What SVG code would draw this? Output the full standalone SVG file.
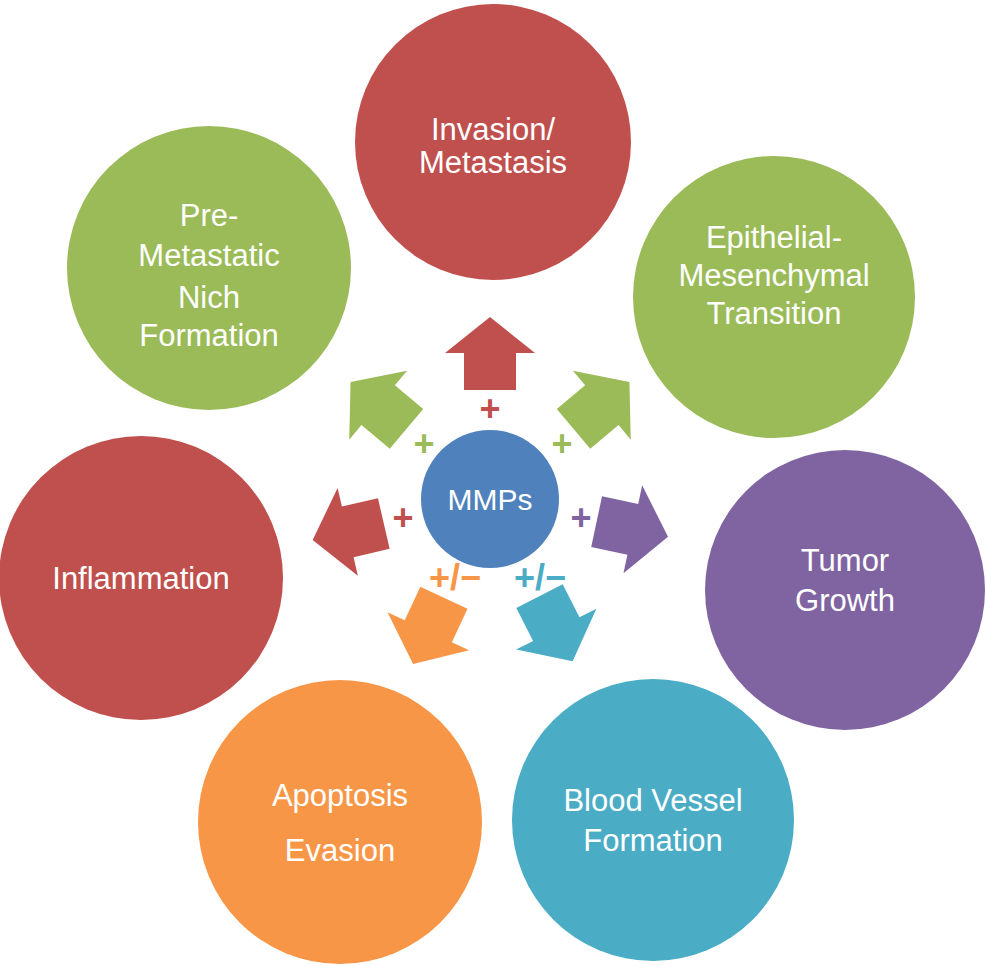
<svg xmlns="http://www.w3.org/2000/svg" width="986" height="965" viewBox="0 0 986 965">
<style>
.t{font-family:"Liberation Sans",Arial,sans-serif;font-size:31px;fill:#fff;text-anchor:middle}
.p{font-family:"Liberation Sans",Arial,sans-serif;font-size:36px;font-weight:bold;text-anchor:middle}
</style>
<defs><path id="ar" d="M-26,-109 L-26,-146 L-45,-146 L0,-182 L45,-146 L26,-146 L26,-109 Z"/></defs>
<rect width="986" height="965" fill="#fff"/>
<g id="n1"><circle cx="493" cy="142" r="138" fill="#c0504d"/><text class="t" x="493" y="140">Invasion/</text><text class="t" x="493" y="173">Metastasis</text></g>
<g id="n2"><circle cx="774" cy="297" r="141" fill="#9bbb59"/><text class="t" x="774" y="248">Epithelial-</text><text class="t" x="774" y="286">Mesenchymal</text><text class="t" x="774" y="324">Transition</text></g>
<g id="n3"><circle cx="845" cy="590" r="140" fill="#8064a2"/><text class="t" x="845" y="571">Tumor</text><text class="t" x="845" y="611">Growth</text></g>
<g id="n4"><circle cx="653" cy="820" r="141" fill="#4bacc6"/><text class="t" x="653" y="811">Blood Vessel</text><text class="t" x="653" y="851">Formation</text></g>
<g id="n5"><circle cx="340" cy="822" r="142" fill="#f79646"/><text class="t" x="340" y="806">Apoptosis</text><text class="t" x="340" y="861">Evasion</text></g>
<g id="n6"><circle cx="141" cy="578" r="142" fill="#c0504d"/><text class="t" x="141" y="589">Inflammation</text></g>
<g id="n7"><circle cx="209" cy="268" r="142" fill="#9bbb59"/><text class="t" x="209" y="226">Pre-</text><text class="t" x="209" y="266">Metastatic</text><text class="t" x="209" y="308">Nich</text><text class="t" x="209" y="346">Formation</text></g>
<g id="connectors">
<use href="#ar" transform="translate(490,499)" fill="#c0504d"/>
<use href="#ar" transform="translate(490,499) rotate(50)" fill="#9bbb59"/>
<use href="#ar" transform="translate(490,499) rotate(102)" fill="#8064a2"/>
<use href="#ar" transform="translate(490,499) rotate(153)" fill="#4bacc6"/>
<use href="#ar" transform="translate(490,499) rotate(-155)" fill="#f79646"/>
<use href="#ar" transform="translate(490,499) rotate(-103)" fill="#c0504d"/>
<use href="#ar" transform="translate(490,499) rotate(-50)" fill="#9bbb59"/>
<text class="p" x="490" y="421" fill="#c0504d">+</text>
<text class="p" x="424" y="456" fill="#9bbb59">+</text>
<text class="p" x="562" y="456" fill="#9bbb59">+</text>
<text class="p" x="403" y="530" fill="#c0504d">+</text>
<text class="p" x="581" y="530" fill="#8064a2">+</text>
<text class="p" x="455" y="590" fill="#f79646">+/−</text>
<text class="p" x="540" y="590" fill="#4bacc6">+/−</text>
</g>
<g id="n0"><circle cx="490" cy="499" r="69" fill="#4f81bd"/><text class="t" x="490" y="510" style="font-size:30px">MMPs</text></g>
</svg>
